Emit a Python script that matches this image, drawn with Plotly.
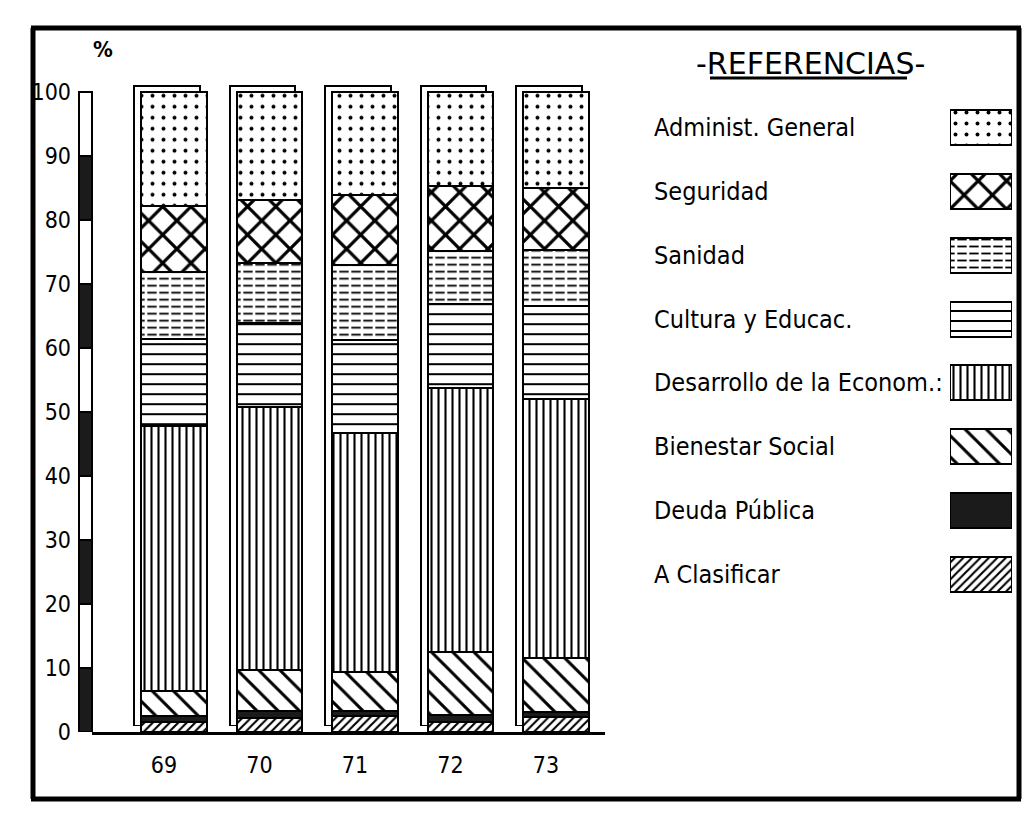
import plotly.graph_objects as go

# Distribución porcentual del gasto por finalidad, años 1969-1973
years = ["69", "70", "71", "72", "73"]

admin_general = [17.8, 16.9, 16.2, 14.7, 15.1]
seguridad = [10.3, 9.9, 10.9, 10.1, 9.6]
sanidad = [10.6, 9.3, 11.7, 8.3, 8.8]
cultura = [13.5, 13.2, 14.5, 13.2, 14.5]
desarrollo = [41.5, 41.1, 37.4, 41.2, 40.4]
bienestar = [3.8, 6.4, 6.0, 9.9, 8.5]
deuda = [0.9, 1.0, 0.9, 1.0, 0.8]
clasificar = [1.6, 2.2, 2.4, 1.6, 2.3]

legend_labels = [
    "Administ. General",
    "Seguridad",
    "Sanidad",
    "Cultura y Educac.",
    "Desarrollo de la Econom.:",
    "Bienestar Social",
    "Deuda Pública",
    "A Clasificar",
]
y_ticks = [0, 10, 20, 30, 40, 50, 60, 70, 80, 90, 100]

FONT = "DejaVu Sans Condensed, Liberation Sans Narrow, DejaVu Sans, sans-serif"
W, H = 1026, 825

# stacking order, bottom to top, with the hatch used for each category
series = [
    (clasificar, "A Clasificar", dict(shape="/", size=6, solidity=0.35)),
    (deuda, "Deuda Pública", None),
    (bienestar, "Bienestar Social", dict(shape="\\", size=15, solidity=0.2)),
    (desarrollo, "Desarrollo de la Econom.:", dict(shape="|", size=7, solidity=0.3)),
    (cultura, "Cultura y Educac.", dict(shape="-", size=10, solidity=0.2)),
    (sanidad, "Sanidad", dict(shape="-", size=7, solidity=0.26)),
    (seguridad, "Seguridad", dict(shape="x", size=20, solidity=0.3)),
    (admin_general, "Administ. General", dict(shape=".", size=11, solidity=0.1)),
]
# white vertical breaks that turn the Sanidad lines into dashes
DASH_BREAK = dict(shape="|", size=12, solidity=0.22, fgcolor="white",
                  bgcolor="rgba(0,0,0,0)", fillmode="replace")


def px_x(p):
    return p / W


def px_y(p):
    return (H - p) / H


def marker_for(pattern):
    if pattern is None:
        return dict(color="#1b1b1b", line=dict(color="black", width=2))
    pat = dict(fgcolor="black", bgcolor="white", fillmode="replace", **pattern)
    return dict(color="white", line=dict(color="black", width=2), pattern=pat)


BREAK_MARKER = dict(color="rgba(0,0,0,0)", line=dict(color="black", width=2),
                    pattern=DASH_BREAK)

fig = go.Figure()

# plot geometry (pixels)
X_LEFT, X_RIGHT = 92, 605
Y_BOTTOM, Y_TOP = 732, 92
PX_PER_UNIT = (Y_BOTTOM - Y_TOP) / 100
Y_MAX = 102
STEP = 95.5                      # pixels between bar centres
FIRST_CENTER = 174
r0 = -(FIRST_CENTER - X_LEFT) / STEP
r1 = (len(years) - 1) + (X_RIGHT - (FIRST_CENTER + (len(years) - 1) * STEP)) / STEP
BAR_W = 0.69
DEPTH_X, DEPTH_Y = 7, 6          # side face offset in pixels

totals = [sum(v) for v in zip(*[s[0] for s in series])]

# back face of each column (first subplot, so the front stack covers it)
fig.add_trace(go.Bar(
    x=years, y=totals, xaxis="x", yaxis="y", width=BAR_W,
    marker=dict(color="white", line=dict(color="black", width=2)),
    showlegend=False, hoverinfo="skip",
))

# front stacked columns
for values, name, pattern in series:
    fig.add_trace(go.Bar(
        x=years, y=values, name=name, xaxis="x2", yaxis="y2", width=BAR_W,
        marker=marker_for(pattern), showlegend=False,
    ))

# dash breaks over the Sanidad segment
below_sanidad = [sum(v) for v in zip(clasificar, deuda, bienestar, desarrollo, cultura)]
fig.add_trace(go.Bar(
    x=years, y=sanidad, base=below_sanidad, xaxis="x4", yaxis="y4",
    width=BAR_W, marker=BREAK_MARKER, showlegend=False, hoverinfo="skip",
))

# key swatches
for values, name, pattern in series:
    fig.add_trace(go.Bar(
        x=[1], y=[name], orientation="h", xaxis="x3", yaxis="y3", width=0.55,
        marker=marker_for(pattern), showlegend=False, hoverinfo="skip",
    ))
fig.add_trace(go.Bar(
    x=[1], y=["Sanidad"], orientation="h", xaxis="x5", yaxis="y5", width=0.55,
    marker=BREAK_MARKER, showlegend=False, hoverinfo="skip",
))

dom_x = [px_x(X_LEFT), px_x(X_RIGHT)]
top_px = Y_TOP - (Y_MAX - 100) * PX_PER_UNIT
dom_y = [px_y(Y_BOTTOM), px_y(top_px)]
back_x = [px_x(X_LEFT - DEPTH_X), px_x(X_RIGHT - DEPTH_X)]
back_y = [px_y(Y_BOTTOM - DEPTH_Y), px_y(top_px - DEPTH_Y)]

cat = dict(type="category", categoryorder="array", categoryarray=years)
hidden = dict(visible=False, automargin=False, showgrid=False, zeroline=False)
key_dom_x = [px_x(950), px_x(1012)]
key_dom_y = [px_y(606), px_y(96)]
key_cat = dict(type="category", categoryorder="array",
               categoryarray=legend_labels,
               range=[len(legend_labels) - 0.5, -0.5])

fig.update_layout(
    width=W, height=H,
    margin=dict(l=0, r=0, t=0, b=0, autoexpand=False),
    paper_bgcolor="white", plot_bgcolor="rgba(0,0,0,0)",
    barmode="stack", bargap=0,
    font=dict(family=FONT, color="black"),
    xaxis=dict(domain=back_x, range=[r0, r1], anchor="y", **cat, **hidden),
    yaxis=dict(domain=back_y, range=[0, Y_MAX], anchor="x", **hidden),
    xaxis2=dict(domain=dom_x, range=[r0, r1], anchor="y2", **cat,
                showline=True, linecolor="black", linewidth=3, ticks="",
                showgrid=False, zeroline=False, automargin=False,
                tickfont=dict(size=23, family=FONT), ticklabelstandoff=10,
                ticklabelshift=-10),
    yaxis2=dict(domain=dom_y, range=[0, Y_MAX], anchor="x2",
                tickvals=y_ticks, ticktext=[str(v) for v in y_ticks],
                ticks="", showline=False, showgrid=False, zeroline=False,
                automargin=False,
                tickfont=dict(size=23, family=FONT), ticklabelstandoff=20),
    xaxis4=dict(range=[r0, r1], overlaying="x2", anchor="y4", **cat, **hidden),
    yaxis4=dict(range=[0, Y_MAX], overlaying="y2", anchor="x4", **hidden),
    xaxis3=dict(domain=key_dom_x, range=[0, 1], anchor="y3", **hidden),
    yaxis3=dict(domain=key_dom_y, anchor="x3", **key_cat, **hidden),
    xaxis5=dict(range=[0, 1], overlaying="x3", anchor="y5", **hidden),
    yaxis5=dict(overlaying="y3", anchor="x5", **key_cat, **hidden),
)

shapes = []
# alternating scale bar along the vertical axis
for i in range(10):
    shapes.append(dict(
        type="rect", xref="paper", yref="y2",
        x0=px_x(79), x1=px_x(92), y0=i * 10, y1=(i + 1) * 10,
        fillcolor="#1b1b1b" if i % 2 == 0 else "white",
        line=dict(color="black", width=2), layer="above",
    ))

# page frame
frame = dict(color="black", width=5)
shapes += [
    dict(type="line", xref="paper", yref="paper", x0=px_x(31), x1=px_x(1021),
         y0=px_y(28), y1=px_y(28), line=frame),
    dict(type="line", xref="paper", yref="paper", x0=px_x(31), x1=px_x(1021),
         y0=px_y(799), y1=px_y(799), line=frame),
    dict(type="line", xref="paper", yref="paper", x0=px_x(33), x1=px_x(33),
         y0=px_y(28), y1=px_y(799), line=frame),
    dict(type="line", xref="paper", yref="paper", x0=px_x(1019), x1=px_x(1019),
         y0=px_y(28), y1=px_y(799), line=frame),
]
# underline of the key heading
shapes.append(dict(type="line", xref="paper", yref="paper",
                   x0=px_x(710), x1=px_x(907), y0=px_y(78), y1=px_y(78),
                   line=dict(color="black", width=3)))

annotations = [
    dict(text="<b>%</b>", xref="paper", yref="paper", x=px_x(103), y=px_y(50),
         xanchor="center", yanchor="middle", showarrow=False,
         font=dict(size=22, family=FONT)),
    dict(text="-REFERENCIAS-", xref="paper", yref="paper", x=px_x(810),
         y=px_y(63), xanchor="center", yanchor="middle", showarrow=False,
         font=dict(size=30, family="DejaVu Sans, sans-serif")),
]
for label in legend_labels:
    annotations.append(dict(
        text=label, xref="paper", yref="y3", x=px_x(652), y=label,
        xanchor="left", yanchor="middle", showarrow=False,
        font=dict(size=25, family=FONT),
    ))

fig.update_layout(shapes=shapes, annotations=annotations)

fig.write_html("out.html")
